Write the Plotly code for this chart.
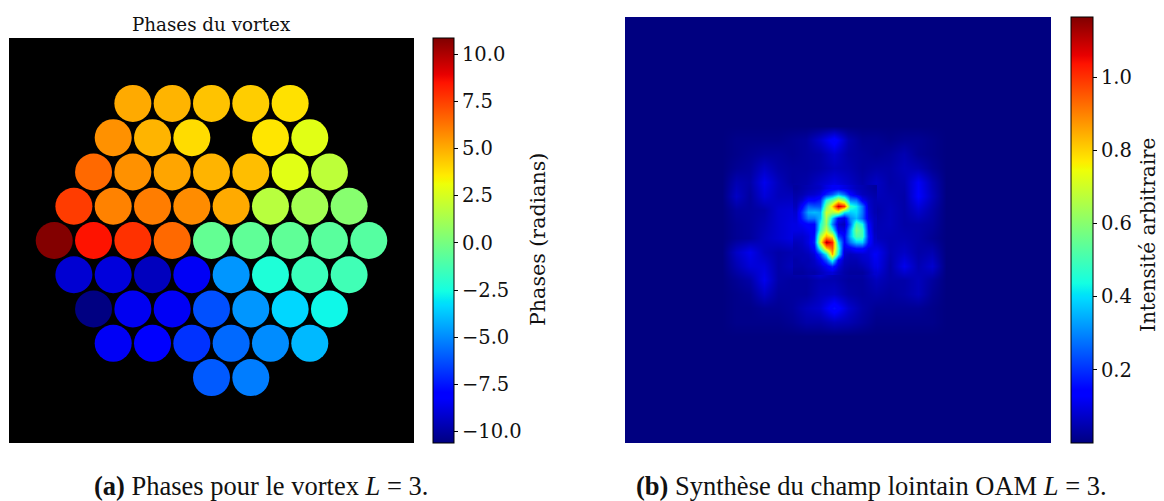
import numpy as np
import plotly.graph_objects as go

# Left panel: hexagonal segments (column in half-pitches, row index, phase in radians)
seg_rows = [4, 3, 2, 1, 0, -1, -2, -3, -4]
seg_cols = [
    [-4, -2, 0, 2, 4],
    [-5, -3, -1, 3, 5],
    [-6, -4, -2, 0, 2, 4, 6],
    [-7, -5, -3, -1, 1, 3, 5, 7],
    [-8, -6, -4, -2, 0, 2, 4, 6, 8],
    [-7, -5, -3, -1, 1, 3, 5, 7],
    [-6, -4, -2, 0, 2, 4, 6],
    [-5, -3, -1, 1, 3, 5],
    [0, 2],
]
seg_phase = [
    [5.06, 4.83, 4.49, 4.27, 3.81],
    [5.63, 4.83, 3.92, 3.70, 2.78],
    [6.54, 5.63, 5.17, 4.83, 4.60, 2.78, 1.86],
    [7.56, 5.97, 6.08, 5.74, 5.06, 1.73, 1.21, 0.43],
    [10.8, 8.5, 7.8, 6.54, -0.5, -0.6, -0.6, -0.75, -0.85],
    [-9.07, -8.9, -9.44, -8.4, -4.77, -2.3, -1.53, -1.4],
    [-10.56, -8.5, -8.4, -6.24, -4.77, -3.4, -2.7],
    [-8.4, -8.2, -6.87, -5.71, -4.98, -4.03],
    [-6.03, -5.29],
]
phase_ticks = [-10, -7.5, -5, -2.5, 0, 2.5, 5, 7.5, 10]

# Right panel: far-field intensity (hundredths, image pixels)
far_x = [97, 111, 125, 139, 153, 167, 181, 195, 209, 223, 237, 251, 265, 279, 293, 307, 321]
far_y = [109, 123, 137, 151, 165, 179, 193, 207, 221, 235, 249, 263, 277, 291, 305, 319]
far_z = [
    [0, 0, 0, 0, 0, 0, 0, 0, 0, 0, 0, 0, 0, 0, 0, 0, 0],
    [0, 1, 1, 1, 1, 2, 3, 8, 15, 5, 2, 2, 1, 2, 2, 1, 0],
    [0, 1, 2, 3, 3, 2, 3, 4, 8, 4, 3, 2, 3, 5, 2, 1, 0],
    [0, 2, 3, 7, 4, 3, 3, 4, 6, 5, 3, 4, 4, 6, 5, 2, 0],
    [0, 5, 4, 11, 6, 3, 4, 7, 10, 7, 4, 7, 4, 5, 12, 5, 0],
    [0, 7, 3, 9, 6, 6, 4, 10, 15, 10, 5, 6, 5, 4, 13, 6, 0],
    [0, 3, 3, 4, 8, 9, 25, 25, 40, 25, 10, 4, 6, 4, 8, 4, 0],
    [0, 2, 3, 5, 8, 10, 12, 35, 10, 25, 20, 5, 6, 4, 4, 3, 0],
    [0, 2, 3, 6, 8, 10, 15, 60, 15, 30, 20, 6, 5, 5, 4, 2, 0],
    [0, 7, 11, 6, 4, 5, 12, 70, 15, 10, 8, 12, 5, 7, 4, 5, 0],
    [0, 5, 9, 9, 4, 6, 7, 14, 6, 5, 5, 11, 4, 11, 5, 8, 0],
    [0, 2, 4, 11, 4, 3, 3, 5, 5, 3, 3, 6, 4, 4, 6, 3, 0],
    [0, 1, 2, 7, 3, 3, 3, 6, 7, 4, 3, 4, 3, 4, 6, 2, 0],
    [0, 1, 1, 2, 2, 3, 6, 8, 16, 8, 4, 2, 2, 2, 2, 1, 0],
    [0, 1, 1, 1, 1, 2, 4, 4, 6, 5, 3, 1, 1, 1, 1, 1, 0],
    [0, 0, 0, 0, 0, 0, 0, 0, 0, 0, 0, 0, 0, 0, 0, 0, 0],
]
core_x = [171, 177, 183, 189, 195, 201, 207, 213, 219, 225, 231, 237, 243, 249]
core_y = [171, 177, 183, 189, 195, 201, 207, 213, 219, 225, 231, 237, 243, 249, 255]
core_z = [
    [3, 4, 5, 6, 7, 10, 12, 12, 10, 8, 6, 5, 4, 3],
    [4, 5, 7, 8, 10, 18, 24, 34, 26, 14, 9, 6, 5, 4],
    [5, 8, 14, 14, 18, 45, 55, 72, 60, 30, 28, 12, 7, 5],
    [6, 14, 26, 24, 24, 58, 80, 110, 100, 48, 42, 28, 8, 5],
    [8, 20, 34, 36, 34, 70, 66, 70, 42, 38, 40, 28, 9, 5],
    [9, 18, 28, 28, 36, 66, 38, 14, 10, 30, 36, 26, 10, 6],
    [10, 12, 14, 14, 44, 62, 30, 8, 6, 26, 52, 44, 14, 6],
    [10, 10, 12, 14, 48, 70, 46, 12, 10, 34, 58, 50, 16, 6],
    [8, 8, 10, 16, 64, 84, 76, 22, 14, 36, 52, 50, 18, 7],
    [6, 7, 10, 18, 72, 112, 102, 40, 14, 28, 38, 38, 16, 8],
    [5, 6, 8, 14, 48, 82, 95, 48, 10, 12, 16, 16, 10, 10],
    [5, 5, 6, 9, 22, 42, 85, 42, 8, 6, 7, 8, 9, 12],
    [4, 5, 5, 7, 12, 24, 45, 14, 6, 5, 5, 7, 8, 11],
    [4, 4, 5, 6, 8, 12, 18, 9, 5, 4, 4, 5, 7, 10],
    [3, 3, 4, 4, 6, 8, 9, 6, 4, 3, 3, 3, 5, 8],
]
intensity_ticks = [0.2, 0.4, 0.6, 0.8, 1.0]

# matplotlib "jet" break points
jet = [
    [0.0, "rgb(0,0,128)"], [0.11, "rgb(0,0,255)"], [0.125, "rgb(0,0,255)"],
    [0.34, "rgb(0,219,255)"], [0.35, "rgb(0,229,247)"], [0.375, "rgb(20,255,226)"],
    [0.64, "rgb(238,255,8)"], [0.65, "rgb(246,245,0)"], [0.66, "rgb(255,236,0)"],
    [0.89, "rgb(255,19,0)"], [0.91, "rgb(232,0,0)"], [1.0, "rgb(128,0,0)"],
]

W, H = 1164, 501
SERIF = "DejaVu Serif"
CAPTION = "Liberation Serif"
L = dict(x0=9, x1=414, y0=38, y1=443)
R = dict(x0=625, x1=1051, y0=17, y1=443)

def dom_x(p):
    return [p["x0"] / W, p["x1"] / W]

def dom_y(p):
    return [1 - p["y1"] / H, 1 - p["y0"] / H]

def cbar(x, p, width, vals, fmt):
    return dict(
        x=x / W, xanchor="left", xpad=0, thickness=width, thicknessmode="pixels",
        y=1 - p["y1"] / H, yanchor="bottom", ypad=0,
        len=(p["y1"] - p["y0"]) / H, lenmode="fraction",
        outlinecolor="black", outlinewidth=1,
        ticks="outside", ticklen=4, tickwidth=1, tickcolor="black",
        tickmode="array", tickvals=vals, tickformat=fmt,
        tickfont=dict(family=SERIF, size=19.5, color="#111111"),
    )

xs, ys, cs = [], [], []
for r, cols, vals in zip(seg_rows, seg_cols, seg_phase):
    for c, v in zip(cols, vals):
        xs.append(c)
        ys.append(r)
        cs.append(v)

fig = go.Figure()
fig.add_trace(go.Scatter(
    x=xs, y=ys, mode="markers", xaxis="x", yaxis="y", showlegend=False,
    marker=dict(size=37, color=cs, colorscale=jet, cmin=-10.6, cmax=10.85,
                line=dict(width=0), showscale=True,
                colorbar=cbar(433, L, 21, phase_ticks, ".1f")),
))
fig.add_trace(go.Heatmap(
    x=far_x, y=far_y, z=(np.array(far_z) / 100).tolist(), xaxis="x2", yaxis="y2",
    colorscale=jet, zmin=0, zmax=1.164, zsmooth="best", showscale=False,
))
fig.add_trace(go.Heatmap(
    x=core_x, y=core_y, z=(np.array(core_z) / 100).tolist(), xaxis="x2", yaxis="y2",
    colorscale=jet, zmin=0, zmax=1.164, zsmooth="best", showscale=True,
    colorbar=cbar(1071, R, 22, intensity_ticks, ".1f"),
))

hidden = dict(showgrid=False, zeroline=False, showticklabels=False, ticks="", showline=False)
fig.update_layout(
    width=W, height=H, margin=dict(l=0, r=0, t=0, b=0),
    paper_bgcolor="white", plot_bgcolor="black",
    xaxis=dict(domain=dom_x(L), range=[-10.3, 10.3], **hidden),
    yaxis=dict(domain=dom_y(L), range=[-5.91, 5.91], **hidden),
    xaxis2=dict(domain=dom_x(R), range=[0, 426], anchor="y2", **hidden),
    yaxis2=dict(domain=dom_y(R), range=[426, 0], anchor="x2", **hidden),
    shapes=[dict(type="rect", xref="paper", yref="paper", layer="below",
                 x0=R["x0"] / W, x1=R["x1"] / W,
                 y0=1 - R["y1"] / H, y1=1 - R["y0"] / H,
                 fillcolor="rgb(0,0,128)", line=dict(width=0))],
)

def note(text, x, y, size, family, angle=0):
    fig.add_annotation(text=text, xref="paper", yref="paper", x=x / W, y=1 - y / H,
                       xanchor="center", yanchor="middle", showarrow=False, textangle=angle,
                       font=dict(family=family, size=size, color="#111111"))

note("Phases du vortex", 211.5, 24, 18.3, SERIF)
note("Phases (radians)", 538, 240, 20.6, SERIF, -90)
note("Intensité arbitraire", 1148, 235, 20, SERIF, -90)
note("<b>(a)</b> Phases pour le vortex <i>L</i> = 3.", 260.5, 486, 26.5, CAPTION)
note("<b>(b)</b> Synthèse du champ lointain OAM <i>L</i> = 3.", 871, 486, 26.5, CAPTION)

fig.write_html("out.html", config=dict(displayModeBar=False),
               post_script="document.body.style.margin='0';")
